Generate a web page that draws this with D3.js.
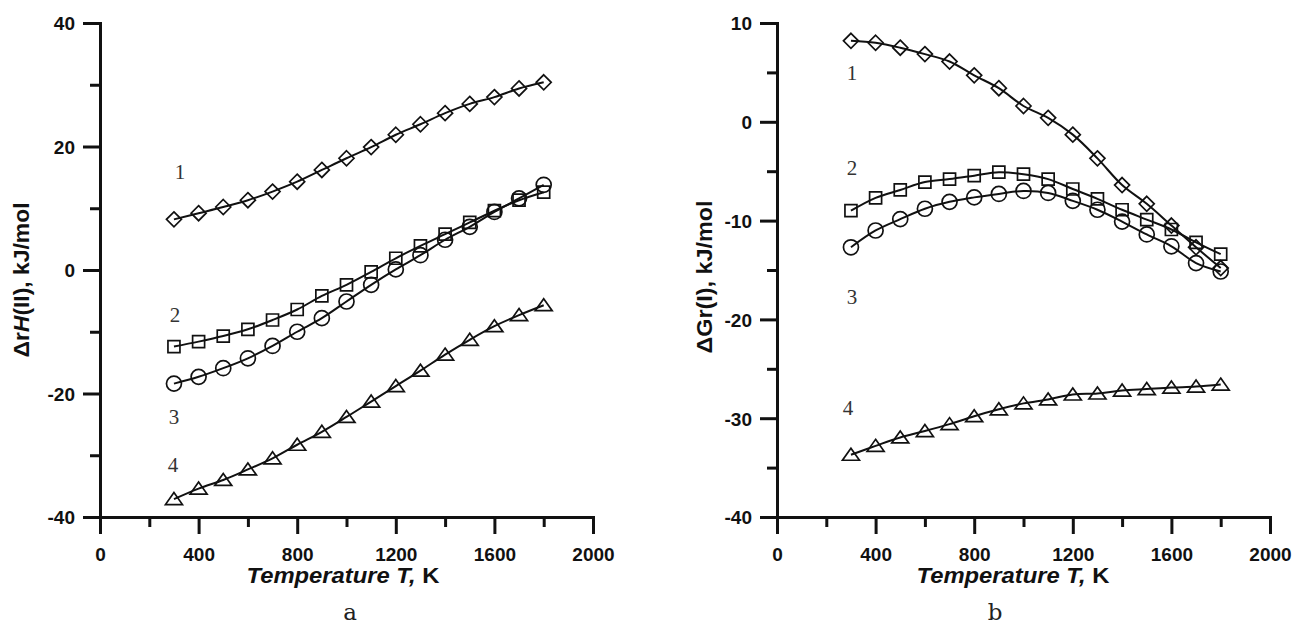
<!DOCTYPE html>
<html>
<head>
<meta charset="utf-8">
<script src="https://cdn.jsdelivr.net/npm/d3@7"></script>
<style>
  html, body { margin: 0; padding: 0; background: #fff; }
  svg { display: block; }
  .tick text { font-family: "Liberation Sans", Arial, sans-serif; font-weight: bold; font-size: 19px; fill: #111; }
  .title { font-family: "Liberation Sans", Arial, sans-serif; font-weight: bold; font-size: 22px; fill: #111; }
  .curve-no { font-family: "Liberation Serif", "Times New Roman", serif; font-size: 21px; fill: #333; }
  .panel-tag { font-family: "DejaVu Serif", serif; font-size: 23px; fill: #222; }
</style>
</head>
<body>
<svg id="fig" width="1296" height="626"></svg>
<script>
// Temperatures, K
const temps = [300, 400, 500, 600, 700, 800, 900, 1000, 1100, 1200, 1300, 1400, 1500, 1600, 1700, 1800];

// Panel a: reaction enthalpy ΔrH(II), kJ/mol
const dH1 = [8.2, 9.2, 10.2, 11.3, 12.7, 14.3, 16.2, 18.1, 19.9, 21.9, 23.6, 25.4, 26.9, 28.0, 29.4, 30.4];
const dH2 = [-12.4, -11.6, -10.7, -9.6, -8.1, -6.4, -4.2, -2.4, -0.3, 1.9, 3.9, 5.8, 7.7, 9.6, 11.3, 12.6];
const dH3 = [-18.4, -17.3, -15.9, -14.3, -12.3, -10.0, -7.8, -5.1, -2.4, 0.1, 2.4, 4.9, 7.0, 9.4, 11.6, 13.8];
const dH4 = [-37.1, -35.4, -34.0, -32.3, -30.5, -28.3, -26.2, -23.8, -21.3, -18.8, -16.3, -13.7, -11.3, -9.1, -7.3, -5.7];

// Panel b: Gibbs energy ΔGr(I), kJ/mol
const dG1 = [8.2, 8.0, 7.5, 6.85, 6.1, 4.7, 3.4, 1.6, 0.4, -1.3, -3.7, -6.4, -8.3, -10.5, -12.7, -14.8];
const dG2 = [-9.0, -7.7, -6.9, -6.1, -5.8, -5.45, -5.1, -5.3, -5.8, -6.8, -7.8, -8.9, -9.9, -10.9, -12.2, -13.4];
const dG3 = [-12.7, -11.0, -9.85, -8.8, -8.1, -7.65, -7.3, -7.0, -7.2, -8.0, -8.9, -10.1, -11.4, -12.6, -14.3, -15.15];
const dG4 = [-33.7, -32.8, -31.95, -31.3, -30.6, -29.8, -29.1, -28.5, -28.1, -27.6, -27.5, -27.2, -27.05, -26.9, -26.8, -26.6];

// Axis ticks
const xMajor = [0, 400, 800, 1200, 1600, 2000];
const xMinor = [200, 600, 1000, 1400, 1800];
const yMajorH = [-40, -20, 0, 20, 40];
const yMinorH = [-30, -10, 10, 30];
const yMajorG = [-40, -30, -20, -10, 0, 10];
const yMinorG = [-35, -25, -15, -5, 5];

// Curve numbers, anchored in data units (T, value)
const curveNames = ["1", "2", "3", "4"];
const tagsH = [[325, 14.7], [304, -8.4], [300, -24.9], [296, -32.7]];
const tagsG = [[304, 4.25], [304, -5.36], [304, -18.4], [288, -29.7]];

const markers = ["diamond", "square", "circle", "triangle"];

const svg = d3.select("#fig");

// plain hyphen-minus for negative tick values
const plainNum = d => String(d);

function markerPath(kind) {
  switch (kind) {
    case "diamond": return "M0,-7.5L7.5,0L0,7.5L-7.5,0Z";
    case "square": return "M-6,-6H6V6H-6Z";
    case "circle": return "M7.5,0A7.5,7.5 0 1,1 -7.5,0A7.5,7.5 0 1,1 7.5,0Z";
    case "triangle": return "M0,-6.5L8.5,5.5L-8.5,5.5Z";
  }
}

function drawPanel(opt) {
  const g = svg.append("g");
  const x = d3.scaleLinear().domain([0, 2000]).range(opt.xr);
  const y = d3.scaleLinear().domain(opt.ydom).range([517, 23]);

  // y axis: minor then major ticks
  const yAxisMinor = d3.axisLeft(y).tickValues(opt.yMinor).tickSize(10).tickSizeOuter(0).tickFormat("");
  const yAxisMajor = d3.axisLeft(y).tickValues(opt.yMajor).tickSize(17).tickSizeOuter(0).tickPadding(8).tickFormat(plainNum);
  const gyMinor = g.append("g").attr("transform", `translate(${opt.xr[0]},0)`).call(yAxisMinor);
  const gy = g.append("g").attr("transform", `translate(${opt.xr[0]},0)`).call(yAxisMajor);

  const xAxisMinor = d3.axisBottom(x).tickValues(xMinor).tickSize(10).tickSizeOuter(0).tickFormat("");
  const xAxisMajor = d3.axisBottom(x).tickValues(xMajor).tickSize(17).tickSizeOuter(0).tickPadding(14).tickFormat(plainNum);
  const gxMinor = g.append("g").attr("transform", "translate(0,517)").call(xAxisMinor);
  const gx = g.append("g").attr("transform", "translate(0,517)").call(xAxisMajor);

  [gyMinor, gy, gxMinor, gx].forEach(a => {
    a.selectAll("path.domain").attr("stroke", "#111").attr("stroke-width", 3).attr("stroke-linecap", "square");
    a.selectAll(".tick line").attr("stroke", "#111").attr("stroke-width", 3);
  });
  gy.selectAll(".tick text").attr("dy", "0.36em");
  gx.selectAll(".tick text").attr("dy", "0.7em");

  // curves
  const line = d3.line()
    .x((d, i) => x(temps[i]))
    .y(d => y(d))
    .curve(d3.curveCatmullRom.alpha(0.5));

  opt.series.forEach((vals, k) => {
    g.append("path")
      .attr("d", line(vals))
      .attr("fill", "none")
      .attr("stroke", "#111")
      .attr("stroke-width", 2);
    g.append("g").selectAll("path")
      .data(vals)
      .join("path")
      .attr("transform", (d, i) => `translate(${x(temps[i])},${y(d)})`)
      .attr("d", markerPath(markers[k]))
      .attr("fill", "none")
      .attr("stroke", "#111")
      .attr("stroke-width", 1.7);
  });

  // curve numbers
  opt.tags.forEach((p, k) => {
    g.append("text")
      .attr("class", "curve-no")
      .attr("x", x(p[0]))
      .attr("y", y(p[1]))
      .attr("text-anchor", "middle")
      .text(curveNames[k]);
  });

  // axis titles
  const xt = g.append("text")
    .attr("class", "title")
    .attr("x", opt.xTitleX)
    .attr("y", 583)
    .attr("text-anchor", "middle")
    .attr("textLength", 193)
    .attr("lengthAdjust", "spacingAndGlyphs");
  xt.append("tspan").attr("font-style", "italic").text("Temperature T,");
  xt.append("tspan").text(" K");

  const yt = g.append("text")
    .attr("class", "title")
    .attr("transform", `translate(${opt.yTitleX},${opt.yTitleY}) rotate(-90)`)
    .attr("text-anchor", "middle")
    .attr("textLength", opt.yTitleLen)
    .attr("lengthAdjust", "spacingAndGlyphs");
  opt.yTitle.forEach(([txt, it]) => {
    const t = yt.append("tspan").text(txt);
    if (it) t.attr("font-style", "italic");
  });

  svg.append("text")
    .attr("class", "panel-tag")
    .attr("x", opt.tagX)
    .attr("y", 620)
    .attr("text-anchor", "middle")
    .text(opt.tag);
}

drawPanel({
  xr: [100, 593],
  ydom: [-40, 40],
  yMajor: yMajorH,
  yMinor: yMinorH,
  series: [dH1, dH2, dH3, dH4],
  tags: tagsH,
  xTitleX: 343,
  yTitleX: 29, yTitleY: 280, yTitleLen: 155,
  yTitle: [["\u0394r", false], ["H", true], ["(II), kJ/mol", false]],
  tag: "a", tagX: 350
});

drawPanel({
  xr: [777, 1270],
  ydom: [-40, 10],
  yMajor: yMajorG,
  yMinor: yMinorG,
  series: [dG1, dG2, dG3, dG4],
  tags: tagsG,
  xTitleX: 1013,
  yTitleX: 712, yTitleY: 277, yTitleLen: 153,
  yTitle: [["\u0394Gr(I), kJ/mol", false]],
  tag: "b", tagX: 995
});
</script>
</body>
</html>
